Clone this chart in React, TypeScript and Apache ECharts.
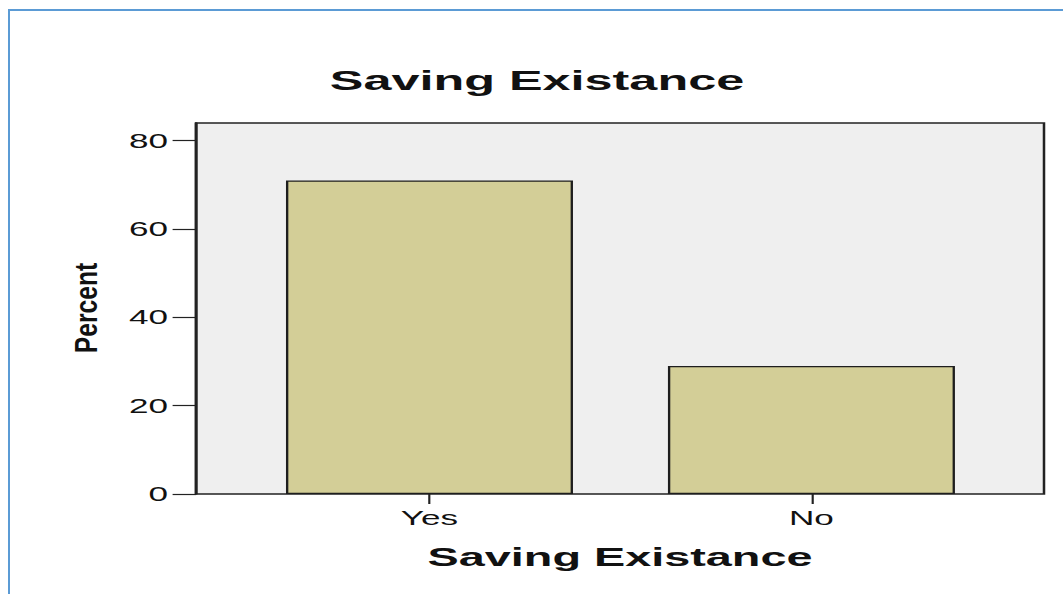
import React, { useEffect, useRef } from "react";
import * as echarts from "echarts";

const categories = ["Yes", "No"];
const percentValues = [71.0, 29.0];
const titleText = "Saving Existance";
const xAxisTitle = "Saving Existance";
const yAxisTitle = "Percent";
const yMin = 0;
const yMax = 84;
const yInterval = 20;

const S = 1.8; // horizontal stretch of the original picture
const W = 1063 / S;
const FONT = "'Liberation Sans', Arial, sans-serif";

export default function App() {
  const ref = useRef<HTMLDivElement>(null);
  useEffect(() => {
    if (!ref.current) return;
    const chart = echarts.init(ref.current, null, { renderer: "svg" });
    const frameLeft = 196 / S;
    const frameRight = 1044 / S;
    const innerLeft = 132.5;
    const innerWidth = 424.4;
    chart.setOption({
      animation: false,
      backgroundColor: "transparent",
      title: {
        text: titleText,
        left: 537 / S - 5,
        top: 61,
        textAlign: "center",
        textStyle: { fontFamily: FONT, fontWeight: "bold", fontSize: 28, color: "#111" },
      },
      graphic: [
        {
          type: "text",
          x: 87 / S,
          y: 308,
          rotation: Math.PI / 2,
          scaleX: 1.45,
          scaleY: 1,
          style: {
            text: yAxisTitle,
            fontFamily: FONT,
            fontWeight: "bold",
            fontSize: 17,
            fill: "#111",
            textAlign: "center",
            align: "center",
            textVerticalAlign: "middle",
            verticalAlign: "middle",
          },
        },
      ],
      grid: [
        {
          left: frameLeft,
          width: frameRight - frameLeft,
          top: 123,
          height: 371,
          show: true,
          backgroundColor: "#efefef",
          borderColor: "#222",
          borderWidth: 1.4,
        },
        {
          left: innerLeft,
          width: innerWidth,
          top: 123,
          height: 371,
        },
      ],
      xAxis: [
        {
          gridIndex: 0,
          type: "category",
          data: [""],
          axisLine: { show: false },
          axisTick: { show: false },
          axisLabel: { show: false },
          name: xAxisTitle,
          nameLocation: "middle",
          nameGap: 50,
          nameTextStyle: { fontFamily: FONT, fontWeight: "bold", fontSize: 26, color: "#111" },
        },
        {
          gridIndex: 1,
          type: "category",
          data: categories,
          boundaryGap: true,
          axisLine: { show: false },
          axisTick: {
            show: true,
            alignWithLabel: true,
            length: 10,
            lineStyle: { color: "#222", width: 1.2 },
          },
          axisLabel: { fontFamily: FONT, fontSize: 19.5, color: "#111", margin: 14 },
        },
      ],
      yAxis: [
        {
          gridIndex: 0,
          type: "value",
          min: yMin,
          max: yMax,
          interval: yInterval,
          axisLine: { show: true, lineStyle: { color: "#222", width: 1.6 } },
          axisTick: { show: true, length: 13, lineStyle: { color: "#222", width: 1.2 } },
          axisLabel: { fontFamily: FONT, fontSize: 19.5, color: "#111", margin: 15.5 },
          splitLine: { show: false },
        },
        {
          gridIndex: 1,
          type: "value",
          min: yMin,
          max: yMax,
          interval: yInterval,
          show: false,
          splitLine: { show: false },
        },
      ],
      series: [
        {
          type: "bar",
          xAxisIndex: 1,
          yAxisIndex: 1,
          data: percentValues,
          barWidth: 287 / S,
          itemStyle: { color: "#d3ce97", borderColor: "#1e1e1e", borderWidth: 1.3 },
        },
      ],
    });
    return () => chart.dispose();
  }, []);

  return (
    <div
      style={{
        position: "fixed",
        left: 0,
        top: 0,
        width: 1063,
        height: 594,
        overflow: "hidden",
        background: "#fff",
      }}
    >
      <div
        style={{
          position: "absolute",
          left: 8,
          top: 9,
          width: 1200,
          height: 800,
          borderLeft: "2px solid #5b9bd5",
          borderTop: "2px solid #5b9bd5",
        }}
      />
      <div
        ref={ref}
        style={{
          position: "absolute",
          left: 0,
          top: 0,
          width: W,
          height: 594,
          transform: `scaleX(${S})`,
          transformOrigin: "0 0",
        }}
      />
    </div>
  );
}
